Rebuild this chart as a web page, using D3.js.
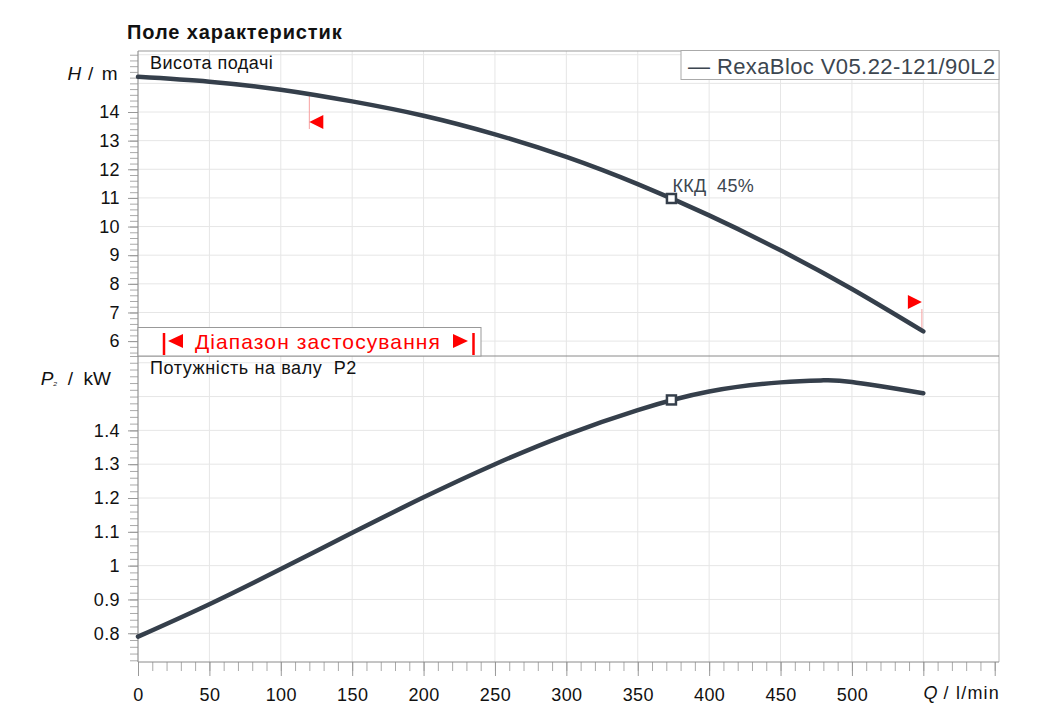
<!DOCTYPE html>
<html><head><meta charset="utf-8">
<script src="https://cdn.jsdelivr.net/npm/d3@7"></script>
<style>
body{margin:0;background:#fff;}
text{font-family:"Liberation Sans",Arial,sans-serif;white-space:pre;}
</style></head>
<body><svg id="c" width="1045" height="723"></svg>
<script>
// ---- data ----
const qH = [0, 50, 100, 150, 200, 250, 300, 350, 400, 450, 500, 550];
const headH = [15.23, 15.06, 14.78, 14.37, 13.87, 13.22, 12.43, 11.48, 10.39, 9.17, 7.82, 6.34];
const qP = [0, 50, 100, 150, 200, 250, 300, 350, 400, 450, 480, 500, 550];
const powerP = [0.79, 0.886, 0.99, 1.097, 1.202, 1.30, 1.387, 1.46, 1.515, 1.542, 1.548, 1.543, 1.51];
const dutyQ = 373.6, dutyH = 10.98, dutyP = 1.49;
const rangeMinQ = 120, rangeMaxQ = 549;
const xTicks = [0, 50, 100, 150, 200, 250, 300, 350, 400, 450, 500];
const xGrid = [0, 50, 100, 150, 200, 250, 300, 350, 400, 450, 500, 550];
const hTicks = [6, 7, 8, 9, 10, 11, 12, 13, 14];
const hGrid = [6, 7, 8, 9, 10, 11, 12, 13, 14, 15, 16];
const pTicks = [0.8, 0.9, 1.0, 1.1, 1.2, 1.3, 1.4];
const pGrid = [0.8, 0.9, 1.0, 1.1, 1.2, 1.3, 1.4, 1.5, 1.6];
const legendLabel = "— RexaBloc V05.22-121/90L2";
const effLabel = "ККД  45%";

const svg = d3.select("#c");
const L = 138, R = 999, T = 51, MID = 356, B = 662;
const x = d3.scaleLinear().domain([0, 603]).range([L, R]);
const yH = d3.scaleLinear().domain([5.48, 16.13]).range([MID, T]);
const yP = d3.scaleLinear().domain([0.715, 1.62]).range([B, MID]);
const curveCol = "#353f4b", gridCol = "#e6e6e6", axisCol = "#8a8a8a";
const FF = "'Liberation Sans',Arial,sans-serif";

// grids
const g = svg.append("g");
g.selectAll(".vg").data(xGrid).join("line")
  .attr("x1", d => x(d)).attr("x2", d => x(d)).attr("y1", T).attr("y2", B)
  .attr("stroke", gridCol).attr("stroke-width", 1);
g.selectAll(".hg").data(hGrid).join("line").attr("class","hg")
  .attr("x1", L).attr("x2", R).attr("y1", d => yH(d)).attr("y2", d => yH(d))
  .attr("stroke", gridCol);
g.selectAll(".pg").data(pGrid).join("line").attr("class","pg")
  .attr("x1", L).attr("x2", R).attr("y1", d => yP(d)).attr("y2", d => yP(d))
  .attr("stroke", gridCol);

// borders
svg.append("line").attr("x1", L).attr("x2", R).attr("y1", T).attr("y2", T).attr("stroke", "#999");
svg.append("line").attr("x1", R).attr("x2", R).attr("y1", T).attr("y2", B).attr("stroke", "#bbb");
svg.append("line").attr("x1", L).attr("x2", R).attr("y1", MID).attr("y2", MID).attr("stroke", axisCol);

// axes
const fnt = 18;
const axH = d3.axisLeft(yH).tickValues(d3.range(5.6, 16.13, 0.2)).tickSize(8).tickFormat("");
const axP = d3.axisLeft(yP).tickValues(d3.range(0.72, 1.62, 0.02)).tickSize(8).tickFormat("");
const axX = d3.axisBottom(x).tickValues(d3.range(0, 601, 10)).tickSize(9).tickFormat("");
[ [axH, `translate(${L},0)`], [axP, `translate(${L},0)`], [axX, `translate(0,${B})`] ].forEach(([a, t]) => {
  const ag = svg.append("g").attr("transform", t).call(a);
  ag.select(".domain").remove();
  ag.selectAll("line").attr("stroke", "#aaa");
});
const majH = d3.axisLeft(yH).tickValues(hTicks).tickSize(10).tickPadding(8).tickFormat(d3.format("d"));
const majP = d3.axisLeft(yP).tickValues(pTicks).tickSize(10).tickPadding(8).tickFormat(d => d === 1 ? "1" : d3.format(".1f")(d));
const majX = d3.axisBottom(x).tickValues(xTicks.concat([550, 600])).tickSize(14).tickPadding(12)
  .tickFormat(d => d > 500 ? "" : d);
[ [majH, `translate(${L},0)`], [majP, `translate(${L},0)`], [majX, `translate(0,${B})`] ].forEach(([a, t]) => {
  const ag = svg.append("g").attr("transform", t).call(a);
  ag.select(".domain").remove();
  ag.selectAll("line").attr("stroke", "#999");
  ag.selectAll("text").attr("font-size", fnt).attr("fill", "#111").attr("letter-spacing", 0.4)
    .style("font-family", FF);
});
svg.append("line").attr("x1", L).attr("x2", L).attr("y1", T).attr("y2", B).attr("stroke", axisCol);
svg.append("line").attr("x1", L).attr("x2", R).attr("y1", B).attr("y2", B).attr("stroke", axisCol);

// axis titles
const t1 = svg.append("text").attr("x", 119).attr("y", 73).attr("text-anchor", "end")
  .attr("dominant-baseline", "central").attr("font-size", 19).attr("fill", "#111");
t1.append("tspan").attr("font-style", "italic").text("H");
t1.append("tspan").text(" / m").attr("letter-spacing", 1.5);
const t2 = svg.append("text").attr("x", 111).attr("y", 378).attr("text-anchor", "end")
  .attr("dominant-baseline", "central").attr("font-size", 19).attr("fill", "#111");
t2.append("tspan").attr("font-style", "italic").text("P");
t2.append("tspan").attr("font-style", "italic").attr("font-size", 10).attr("dy", 3).text("₂");
t2.append("tspan").attr("dy", -3).text("  /  kW");
const t3 = svg.append("text").attr("x", 1000).attr("y", 693).attr("text-anchor", "end")
  .attr("dominant-baseline", "central").attr("font-size", 18).attr("fill", "#111");
t3.append("tspan").attr("font-style", "italic").text("Q");
t3.append("tspan").text(" / l/min").attr("letter-spacing", 1.2);

svg.append("text").attr("x", 127).attr("y", 32).attr("dominant-baseline", "central")
  .attr("font-size", 20).attr("font-weight", "bold").attr("letter-spacing", 0.9)
  .attr("fill", "#111").text("Поле характеристик");
svg.append("text").attr("x", 150).attr("y", 63).attr("dominant-baseline", "central")
  .attr("font-size", 18).attr("letter-spacing", 0.5).attr("fill", "#111").text("Висота подачі");
svg.append("text").attr("x", 150).attr("y", 368).attr("dominant-baseline", "central")
  .attr("font-size", 18).attr("letter-spacing", 0.6).attr("fill", "#111").text("Потужність на валу  P2");

// range markers
svg.append("line").attr("x1", x(rangeMinQ)).attr("x2", x(rangeMinQ)).attr("y1", 92).attr("y2", 129)
  .attr("stroke", "#f7a0a0").attr("stroke-width", 1);
svg.append("path").attr("d", `M${x(rangeMinQ)},122 l14,-7 l0,14 z`).attr("fill", "#f00");
svg.append("line").attr("x1", x(rangeMaxQ)).attr("x2", x(rangeMaxQ)).attr("y1", 309).attr("y2", 330)
  .attr("stroke", "#f7a0a0").attr("stroke-width", 1);
svg.append("path").attr("d", `M${x(rangeMaxQ)},302 l-14,-7 l0,14 z`).attr("fill", "#f00");

// curves
const lineH = d3.line().x((d, i) => x(qH[i])).y(d => yH(d)).curve(d3.curveNatural);
const lineP = d3.line().x((d, i) => x(qP[i])).y(d => yP(d)).curve(d3.curveNatural);
svg.append("path").attr("d", lineH(headH)).attr("fill", "none").attr("stroke", curveCol)
  .attr("stroke-width", 4.5).attr("stroke-linecap", "round");
svg.append("path").attr("d", lineP(powerP)).attr("fill", "none").attr("stroke", curveCol)
  .attr("stroke-width", 4.5).attr("stroke-linecap", "round");

// duty point markers
[[dutyQ, yH(dutyH)], [dutyQ, yP(dutyP)]].forEach(([q, yy]) => {
  svg.append("rect").attr("x", x(q) - 4.5).attr("y", yy - 4.5).attr("width", 9).attr("height", 9)
    .attr("fill", "#fff").attr("stroke", curveCol).attr("stroke-width", 2.5);
});
svg.append("text").attr("x", x(dutyQ) + 1).attr("y", 186).attr("dominant-baseline", "central")
  .attr("font-size", 18).attr("letter-spacing", 0.3).attr("fill", "#3c4650").text(effLabel);

// legend
svg.append("rect").attr("x", 681).attr("y", 50.5).attr("width", 318).attr("height", 29)
  .attr("fill", "#fff").attr("stroke", "#aaa");
svg.append("text").attr("x", 688).attr("y", 66).attr("dominant-baseline", "central")
  .attr("font-size", 22).attr("letter-spacing", 0.4).attr("fill", "#3c4650").text(legendLabel);

// application range box
svg.append("rect").attr("x", 138).attr("y", 327.5).attr("width", 343).attr("height", 28.5)
  .attr("fill", "#fff").attr("stroke", "#999");
svg.append("line").attr("x1", 164).attr("x2", 164).attr("y1", 333).attr("y2", 355).attr("stroke", "#f00").attr("stroke-width", 2.5);
svg.append("line").attr("x1", 473.5).attr("x2", 473.5).attr("y1", 333).attr("y2", 355).attr("stroke", "#f00").attr("stroke-width", 2.5);
svg.append("path").attr("d", "M168,341 l15,-7 l0,14 z").attr("fill", "#f00");
svg.append("path").attr("d", "M468,341 l-15,-7 l0,14 z").attr("fill", "#f00");
svg.append("text").attr("x", 318).attr("y", 341).attr("text-anchor", "middle").attr("dominant-baseline", "central")
  .attr("font-size", 21).attr("letter-spacing", 1.1).attr("fill", "#f00").text("Діапазон застосування");
</script></body></html>
